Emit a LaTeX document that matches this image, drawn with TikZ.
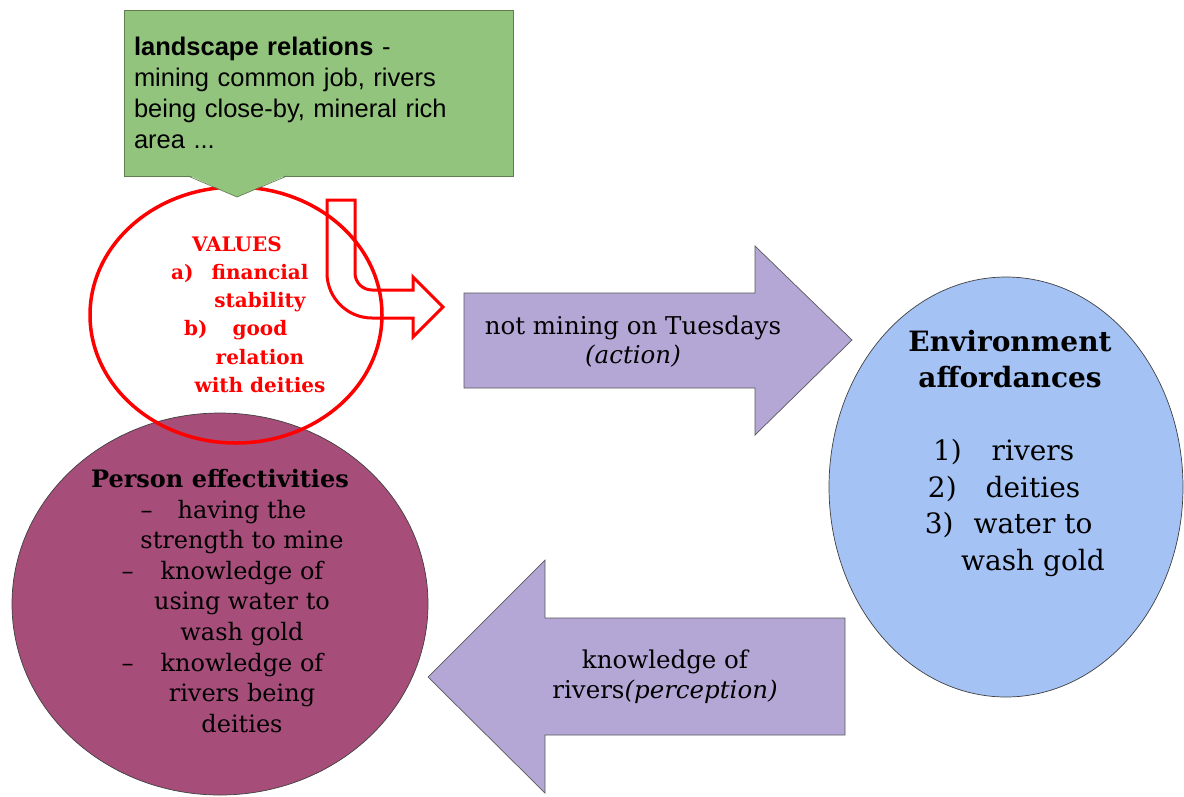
\documentclass[tikz,border=0pt]{standalone}
\usepackage{fontspec}
\setmainfont{DejaVu Serif}
\newfontfamily\arialfont{Liberation Sans}
\usetikzlibrary{shapes.geometric}

\definecolor{callgreen}{HTML}{93C47D}
\definecolor{arrowpurple}{HTML}{B4A7D6}
\definecolor{effectpurple}{HTML}{A64D79}
\definecolor{affordblue}{HTML}{A4C2F4}
\definecolor{valuered}{HTML}{FF0000}

\begin{document}
\begin{tikzpicture}[x=1pt, y=-1pt,
    bubble/.style={ellipse, draw=black!75, line width=0.7pt, inner sep=0pt},
    blockarrow/.style={fill=arrowpurple, draw=black!65, line width=0.7pt},
    landbox/.style={rectangle, fill=callgreen, draw=callgreen!65!black, line width=0.7pt,
        minimum width=389, minimum height=166, text width=369, inner sep=10pt,
        align=left, font=\arialfont\fontsize{25.5}{31}\selectfont},
    valtext/.style={align=center, text=valuered, font=\bfseries\fontsize{20}{28.2}\selectfont},
    listtext/.style={align=center, font=\fontsize{24}{30.6}\selectfont},
    afftext/.style={align=center, font=\fontsize{28}{36.5}\selectfont},
    arrowtext/.style={align=center, font=\fontsize{24.5}{29.5}\selectfont}]
    \useasboundingbox (0,0) rectangle (1184,796);

    % the three ellipses
    \node[bubble, fill=effectpurple, minimum width=416, minimum height=382] (effect) at (220,604) {};
    \node[bubble, fill=affordblue, minimum width=354, minimum height=420] (afford) at (1006,487) {};
    \node[ellipse, draw=valuered, line width=3.5pt, minimum width=292, minimum height=256] (values) at (236,315) {};

    % block arrows
    \draw[blockarrow] (464,293) -- (755,293) -- (755,246) -- (852,340) -- (755,435) -- (755,388) -- (464,388) -- cycle;
    \draw[blockarrow] (845,618) -- (545,618) -- (545,560) -- (428,677) -- (545,793) -- (545,735) -- (845,735) -- cycle;
    \node[arrowtext] (action) at (633,341.5) {not mining on Tuesdays\\\textit{(action)}};
    \node[arrowtext] (perception) at (665,676.5) {knowledge of\\rivers\textit{(perception)}};

    % bent arrow out of the values
    \draw[valuered, line width=3pt] (327,200) -- (355,200) -- (355,273)
        .. controls (355,282.4) and (362.6,290) .. (372,290) -- (413,290) -- (413,277)
        -- (443,307) -- (413,337) -- (413,318) -- (372,318)
        .. controls (347.2,318) and (327,297.8) .. (327,273) -- cycle;

    \node[valtext] (valuelist) at (260,314.5) {\kern-46pt VALUES\\
        \llap{a)\hspace{18pt}}financial\\ stability\\
        \llap{b)\hspace{25pt}}good\\ relation\\ with deities};

    \node[listtext] (effectlist) at (242,601) {\kern-44pt\textbf{Person effectivities}\\
        \llap{–\hspace{25pt}}having the\\ strength to mine\\
        \llap{–\hspace{27pt}}knowledge of\\ using water to\\ wash gold\\
        \llap{–\hspace{27pt}}knowledge of\\ rivers being\\ deities};

    \node[afftext] (affordlist) at (1033,453) {\kern-46pt\textbf{Environment}\\
        \kern-46pt\textbf{affordances}\\[36.5pt]
        \llap{1)\hspace{30pt}}rivers\\ \llap{2)\hspace{29pt}}deities\\
        \llap{3)\hspace{20pt}}water to\\ wash gold};

    % callout on top
    \node[landbox] (landscape) at (318.5,93) {\textbf{landscape relations} -\\
        mining common job, rivers\\ being close-by, mineral rich\\ area ...};
    \fill[callgreen] (188,175) -- (237,197) -- (287,175) -- cycle;
    \draw[callgreen!65!black, line width=0.7pt] (188,176) -- (237,197) -- (287,176);
\end{tikzpicture}
\end{document}
